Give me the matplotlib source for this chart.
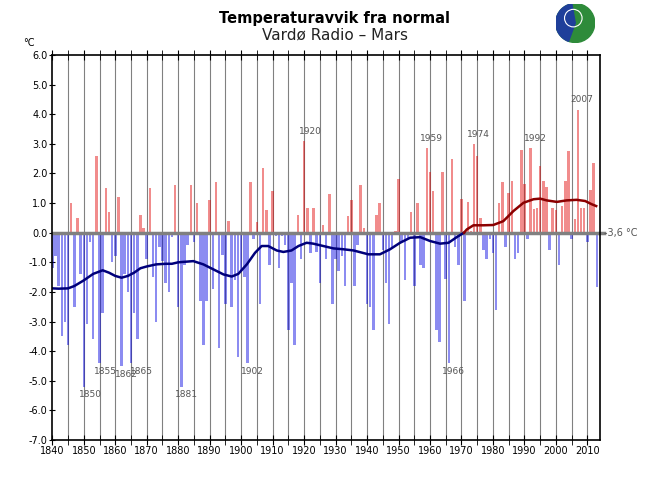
import matplotlib
matplotlib.use("Agg")
import matplotlib.pyplot as plt
from matplotlib.patches import Circle, Wedge
import numpy as np

# yearly anomaly (deg C) relative to normal -3,6 C, Vardø Radio, March
years = list(range(1840, 2014))
anomaly = [
    -1.2, -0.8, -1.8, -3.5, -3.0, -3.8, 1.0, -2.5, 0.5, -1.4,      # 1840-1849
    -5.2, -3.1, -0.3, -3.6, 2.6, -4.4, -2.7, 1.5, 0.7, -1.0,       # 1850-1859
    -0.8, 1.2, -4.5, -1.4, -2.0, -4.4, -2.7, -3.6, 0.6, 0.15,      # 1860-1869
    -0.9, 1.5, -1.5, -3.0, -0.5, -0.95, -1.7, -2.0, -0.15, 1.6,    # 1870-1879
    -2.5, -5.2, -1.1, -0.4, 1.6, -0.3, 1.0, -2.3, -3.8, -2.3,      # 1880-1889
    1.1, -1.9, 1.7, -3.9, -0.75, -2.4, 0.4, -2.5, -1.6, -4.2,      # 1890-1899
    -1.3, -1.5, -4.4, 1.7, -0.2, 0.35, -2.4, 2.2, 0.75, -1.1,      # 1900-1909
    1.4, -0.1, -1.2, -0.1, -0.4, -3.3, -1.7, -3.8, 0.6, -0.9,      # 1910-1919
    3.1, 0.85, -0.7, 0.85, -0.65, -1.7, 0.25, -0.9, 1.3, -2.4,     # 1920-1929
    -0.9, -1.3, -0.8, -1.8, 0.55, 1.1, -1.8, -0.4, 1.6, 0.15,      # 1930-1939
    -2.4, -2.5, -3.3, 0.6, 1.0, -0.6, -1.7, -3.1, -0.5, 0.05,      # 1940-1949
    1.8, -0.3, -1.6, -0.2, 0.7, -1.8, 1.0, -1.1, -1.2, 2.85,       # 1950-1959
    2.05, 1.4, -3.3, -3.7, 2.05, -1.55, -4.4, 2.5, -0.5, -1.1,     # 1960-1969
    1.15, -2.3, 1.05, 0.05, 3.0, 2.6, 0.5, -0.6, -0.9, -0.2,       # 1970-1979
    -0.7, -2.6, 1.0, 1.7, -0.5, 1.35, 1.75, -0.9, -0.7, 2.8,       # 1980-1989
    1.65, -0.2, 2.85, 0.8, 0.85, 2.25, 1.75, 1.55, -0.6, 0.85,     # 1990-1999
    0.75, -1.1, 0.9, 1.75, 2.75, -0.2, 0.45, 4.15, 0.85, 0.85,     # 2000-2009
    -0.3, 1.45, 2.35, -1.85,                                       # 2010-2013
]

# smoothed curve
smooth_years = [1840, 1842, 1845, 1847, 1850, 1853, 1856, 1858, 1860, 1862,
                1864, 1866, 1868, 1870, 1873, 1876, 1878, 1880, 1884.8, 1888,
                1891.2, 1894.4, 1897, 1899.1, 1901.8, 1904.4, 1906.5, 1908.6,
                1911.3, 1913.4, 1916, 1918.2, 1920.8, 1922.9, 1926.1, 1929.3,
                1932.5, 1935.7, 1940.4, 1944.1, 1947.3, 1950.5, 1953.7, 1956.9,
                1960, 1963.2, 1965.9, 1968.5, 1970.8, 1971.7, 1973.8, 1977,
                1980.1, 1983.3, 1986.5, 1989.7, 1992.9, 1995, 1997.1, 2000.3,
                2003.4, 2006.6, 2009.3, 2011.4, 2012.8]
smooth_vals = [-1.88, -1.89, -1.88, -1.8, -1.61, -1.39, -1.27, -1.35, -1.46, -1.52,
               -1.46, -1.35, -1.2, -1.14, -1.07, -1.05, -1.05, -1.0, -0.96, -1.07,
               -1.24, -1.41, -1.48, -1.39, -1.07, -0.68, -0.45, -0.45,
               -0.6, -0.65, -0.6, -0.45, -0.34, -0.37, -0.45, -0.53,
               -0.56, -0.6, -0.73, -0.73, -0.56, -0.34, -0.17, -0.15,
               -0.28, -0.37, -0.34, -0.15, 0.0, 0.11, 0.25, 0.25,
               0.26, 0.39, 0.73, 1.01, 1.13, 1.15, 1.09, 1.04,
               1.09, 1.11, 1.07, 0.96, 0.9]

# extreme years marked on the chart, with the label shift (years) seen there
labels_low = [1850, 1855, 1862, 1865, 1881, 1902, 1966]
shift_low = [2.0, 1.8, 1.4, 3.2, 1.6, 1.6, 1.4]
labels_high = [1920, 1959, 1974, 1992, 2007]
shift_high = [1.9, 1.6, 1.4, 1.5, 1.3]

yticks = np.arange(-7, 7, 1)

fig = plt.figure(figsize=(6.5, 5), dpi=100)
ax = fig.add_axes([0.0805, 0.12, 0.8425, 0.77])

vals = np.array(anomaly)
cols = np.where(vals >= 0, "#e00000", "#0000e0")
ax.bar(years, vals, width=0.8, color=cols, alpha=0.45, linewidth=0, zorder=2)

# vertical grid every 5 years
for gx in range(1845, 2014, 5):
    ax.axvline(gx, color="#808080", lw=0.8, zorder=1)

ax.axhline(0, color="#808080", lw=2.5, zorder=3)
ax.plot([2014, 2015.2], [0, 0], color="#808080", lw=2.5, clip_on=False, zorder=3)
ax.text(2015.4, 0, "-3,6 °C", fontsize=7, color="#555555", va="center", ha="left")

sy = np.array(smooth_years)
sv = np.array(smooth_vals)
neg = sy <= 1970.8
ax.plot(sy[neg], sv[neg], color="#00007a", lw=1.8, zorder=4)
ax.plot(sy[sy >= 1970.8], sv[sy >= 1970.8], color="#8b0000", lw=1.8, zorder=4)

for yr, dx in zip(labels_low, shift_low):
    v = anomaly[years.index(yr)]
    ax.text(yr + dx, v - 0.12, str(yr), fontsize=6.5, color="#555555",
            ha="center", va="top", zorder=5)
for yr, dx in zip(labels_high, shift_high):
    v = anomaly[years.index(yr)]
    ax.text(yr + dx, v + 0.18, str(yr), fontsize=6.5, color="#555555",
            ha="center", va="bottom", zorder=5)

ax.set_xlim(1840, 2014)
ax.set_ylim(-7, 6)
ax.set_yticks(yticks)
ax.set_yticklabels(["%.1f" % t for t in yticks], fontsize=7)
ax.set_xticks(range(1840, 2014, 10))
ax.set_xticklabels([str(t) for t in range(1840, 2014, 10)], fontsize=7)
ax.set_xticks(range(1845, 2014, 10), minor=True)
ax.tick_params(axis="x", which="both", direction="inout", length=7, top=True, pad=1)
ax.tick_params(axis="y", which="both", direction="inout", length=5, pad=1)
for sp in ax.spines.values():
    sp.set_linewidth(1.2)
    sp.set_zorder(6)

fig.text(0.035, 0.908, "°C", fontsize=7, ha="left")
fig.text(0.515, 0.962, "Temperaturavvik fra normal", fontsize=10.5,
         fontweight="bold", ha="center", va="center")
fig.text(0.515, 0.93, "Vardø Radio – Mars", fontsize=11, ha="center",
         va="center", color="#222222")

# small globe logo
lax = fig.add_axes([0.855, 0.915, 0.06, 0.078])
lax.set_xlim(-1, 1)
lax.set_ylim(-1, 1)
lax.set_aspect("equal")
lax.axis("off")
lax.add_patch(Circle((0, 0), 1, color="#2e8b3a"))
lax.add_patch(Wedge((0, 0), 1, 100, 250, color="#1f3f9a"))
lax.add_patch(Circle((-0.1, 0.25), 0.45, fill=False, ec="white", lw=0.8))

fig.savefig("out.png", dpi=100)
